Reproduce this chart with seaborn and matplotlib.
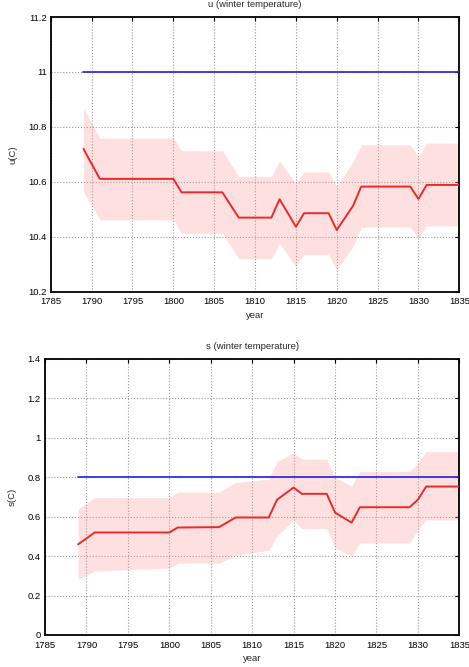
import numpy as np
import pandas as pd
import matplotlib
matplotlib.use("Agg")
import matplotlib.pyplot as plt
import seaborn as sns

# years where the curves change slope
years = [1789, 1791, 1800, 1801, 1806, 1808, 1812, 1813, 1815, 1816,
         1819, 1820, 1822, 1823, 1829, 1830, 1831, 1835]

# u (winter temperature)
u_mean = [10.72, 10.611, 10.611, 10.562, 10.562, 10.47, 10.47, 10.537, 10.437, 10.486,
          10.486, 10.425, 10.513, 10.583, 10.583, 10.538, 10.589, 10.589]
u_upper = [10.868, 10.759, 10.759, 10.713, 10.713, 10.62, 10.62, 10.676, 10.595, 10.637,
           10.637, 10.583, 10.674, 10.735, 10.735, 10.692, 10.741, 10.741]
u_lower = [10.565, 10.462, 10.462, 10.413, 10.413, 10.32, 10.32, 10.377, 10.292, 10.335,
           10.335, 10.28, 10.365, 10.435, 10.435, 10.395, 10.44, 10.44]
u_true = 11.0

# s (winter temperature)
s_mean = [0.46, 0.52, 0.52, 0.545, 0.547, 0.596, 0.596, 0.686, 0.748, 0.716,
          0.716, 0.621, 0.570, 0.648, 0.648, 0.686, 0.753, 0.753]
s_upper = [0.64, 0.697, 0.697, 0.725, 0.725, 0.774, 0.79, 0.88, 0.923, 0.892,
           0.892, 0.80, 0.755, 0.83, 0.83, 0.872, 0.93, 0.93]
s_lower = [0.283, 0.325, 0.339, 0.364, 0.364, 0.403, 0.43, 0.50, 0.584, 0.54,
           0.54, 0.44, 0.401, 0.466, 0.466, 0.533, 0.584, 0.584]
s_true = 0.8

x_ticks = list(range(1785, 1836, 5))

sns.set_theme(style="white")
plt.rcParams['font.family'] = ['Liberation Sans', 'DejaVu Sans']

fig = plt.figure(figsize=(4.69, 6.67), dpi=100)
ax1 = fig.add_axes([0.1083, 0.5625, 0.8710, 0.4120])
ax2 = fig.add_axes([0.0960, 0.0480, 0.8833, 0.4138])


def draw(ax, mean, upper, lower, true_val, ylim, yticks, ylabel, title):
    df = pd.DataFrame({"year": years, "mean": mean})
    ax.fill_between(years, lower, upper, color="#ff9999", alpha=0.3, linewidth=0, zorder=1)
    sns.lineplot(data=df, x="year", y="mean", ax=ax, color="#e82a2a", linewidth=1.4, zorder=3)
    tdf = pd.DataFrame({"year": [years[0], years[-1]], "v": [true_val, true_val]})
    sns.lineplot(data=tdf, x="year", y="v", ax=ax, color="#2222dd", linewidth=1.2, zorder=3)
    ax.set_xlim(1785, 1835)
    ax.set_ylim(*ylim)
    ax.set_xticks(x_ticks)
    ax.set_yticks(yticks)
    ax.set_yticklabels([f"{t:g}" for t in yticks])
    ax.grid(True, linestyle=":", color="#999999", linewidth=0.8, zorder=2)
    ax.tick_params(direction="in", length=3, width=0.8, top=True, right=True,
                   labelsize=6.8, colors="black")
    ax.tick_params(axis="x", pad=4)
    ax.tick_params(axis="y", pad=3)
    for sp in ax.spines.values():
        sp.set_color("black")
        sp.set_linewidth(1.3)
    ax.set_xlabel("year", fontsize=6.8, labelpad=3)
    ax.set_ylabel(ylabel, fontsize=6.8, labelpad=8)
    ax.set_title(title, fontsize=6.8, pad=7)


draw(ax1, u_mean, u_upper, u_lower, u_true, (10.2, 11.2),
     [10.2, 10.4, 10.6, 10.8, 11.0, 11.2], "u(C)", "u (winter temperature)")
draw(ax2, s_mean, s_upper, s_lower, s_true, (0, 1.4),
     [0, 0.2, 0.4, 0.6, 0.8, 1.0, 1.2, 1.4], "s(C)", "s (winter temperature)")

fig.savefig("out.png", dpi=100)
